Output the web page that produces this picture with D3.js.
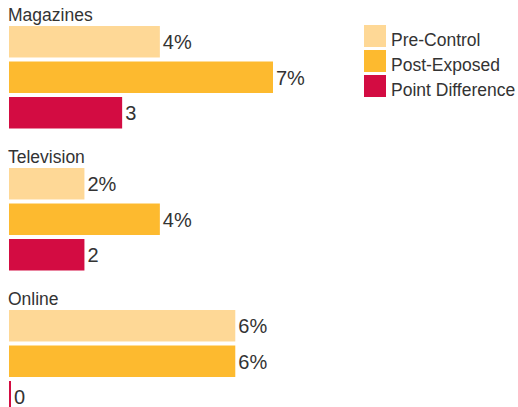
<!DOCTYPE html>
<html>
<head>
<meta charset="utf-8">
<script src="https://cdn.jsdelivr.net/npm/d3@7"></script>
<style>
  html, body { margin: 0; padding: 0; background: #fff; }
  svg { display: block; font-family: "Liberation Sans", Arial, Helvetica, sans-serif; }
</style>
</head>
<body>
<svg id="chart" width="518" height="407"></svg>
<script>
// Media channels and the three measures shown for each
const categories = ["Magazines", "Television", "Online"];
const seriesNames = ["Pre-Control", "Post-Exposed", "Point Difference"];
const preControl = [4, 2, 6];
const postExposed = [7, 4, 6];
const pointDifference = [3, 2, 0];
const seriesSuffix = ["%", "%", ""];
const seriesColors = ["#FED896", "#FDBA2F", "#D30C42"];

const seriesValues = [preControl, postExposed, pointDifference];

const svg = d3.select("#chart");
const textColor = "#333333";

// Value axis (no visible axis, only used for bar lengths)
const x = d3.scaleLinear().domain([0, 7]).range([9, 273]);

// One band per channel, one sub-band per measure
const group = d3.scaleBand().domain(categories).range([26, 26 + 142 * categories.length]).padding(0);
const inner = d3.scaleBand().domain(seriesNames).range([0, 102.5]).paddingInner(0.113).paddingOuter(0);

const rows = [];
categories.forEach((c, ci) => {
  seriesNames.forEach((s, si) => {
    rows.push({ category: c, series: s, value: seriesValues[si][ci], suffix: seriesSuffix[si], color: seriesColors[si] });
  });
});

// Channel headings
svg.append("g").selectAll("text")
  .data(categories)
  .join("text")
  .attr("x", 8)
  .attr("y", d => group(d) - 5)
  .attr("fill", textColor)
  .attr("font-size", 17.5)
  .text(d => d);

const barH = inner.bandwidth();

const bars = svg.append("g").selectAll("g")
  .data(rows)
  .join("g")
  .attr("transform", d => `translate(0,${group(d.category) + inner(d.series)})`);

bars.append("rect")
  .attr("x", x(0))
  .attr("y", 0)
  .attr("height", barH)
  .attr("width", d => Math.max(2, x(d.value) - x(0)))
  .attr("fill", d => d.color);

bars.append("text")
  .attr("x", d => Math.max(x(0) + 2, x(d.value)) + 3)
  .attr("y", barH / 2 + 7.5)
  .attr("fill", textColor)
  .attr("font-size", 20)
  .text(d => d.value + d.suffix);

// Legend
const legend = svg.append("g").attr("transform", "translate(364,25)");
const li = legend.selectAll("g")
  .data(seriesNames)
  .join("g")
  .attr("transform", (d, i) => `translate(0,${i * 25})`);
li.append("rect")
  .attr("width", 22)
  .attr("height", 22)
  .attr("fill", (d, i) => seriesColors[i]);
li.append("text")
  .attr("x", 27)
  .attr("y", 20.5)
  .attr("fill", textColor)
  .attr("font-size", 17.5)
  .text(d => d);
</script>
</body>
</html>
